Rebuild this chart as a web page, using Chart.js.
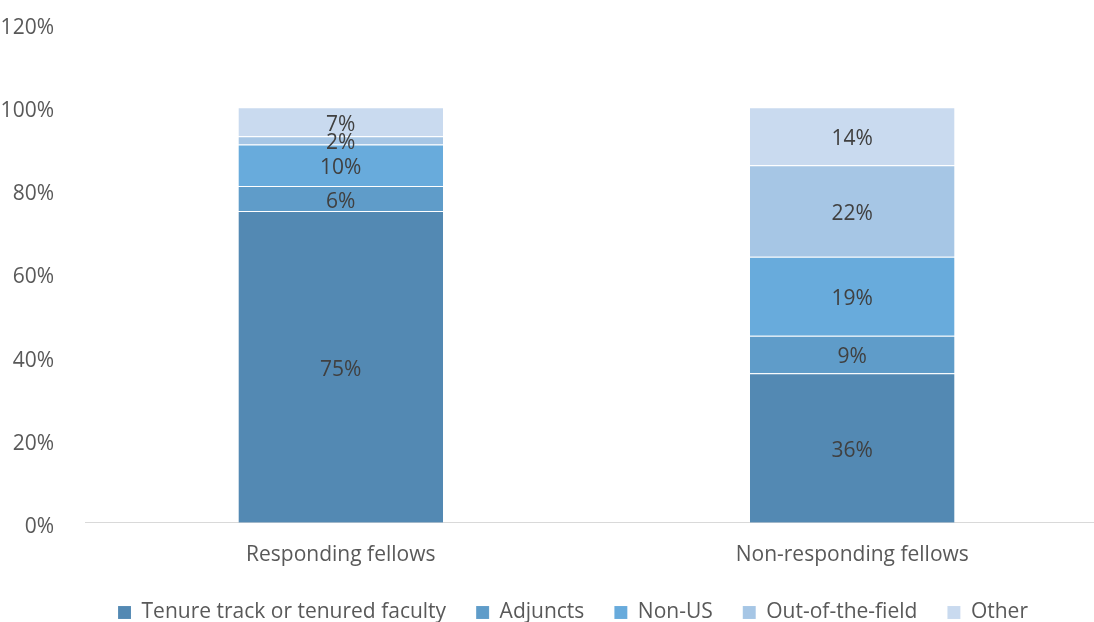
<!DOCTYPE html>
<html>
<head>
<meta charset="utf-8">
<script src="https://cdn.jsdelivr.net/npm/chart.js@4.4.1/dist/chart.umd.min.js"></script>
<style>
  html, body { margin: 0; padding: 0; background: #fff; overflow: hidden; }
  #wrap { width: 1110px; height: 622px; }
</style>
</head>
<body>
<div id="wrap"><canvas id="barChart"></canvas></div>
<script>
Chart.defaults.font.family = "Open Sans";
Chart.defaults.font.size = 21;

const groups = ["Responding fellows", "Non-responding fellows"];
const tenure = [75, 36];
const adjuncts = [6, 9];
const nonUS = [10, 19];
const outOfField = [2, 22];
const other = [7, 14];
const yTicks = [0, 20, 40, 60, 80, 100, 120];

const series = [
    { label: "Tenure track or tenured faculty", data: tenure, color: "#5389b3" },
    { label: "Adjuncts", data: adjuncts, color: "#5f9cc9" },
    { label: "Non-US", data: nonUS, color: "#68abdc" },
    { label: "Out-of-the-field", data: outOfField, color: "#a6c6e5" },
    { label: "Other", data: other, color: "#c9daef" }
];

// writes each segment's value in its middle
const segmentLabels = {
    id: "segmentLabels",
    afterDatasetsDraw(chart){
        const ctx = chart.ctx;
        ctx.save();
        ctx.font = "21px 'Open Sans'";
        ctx.fillStyle = "#404040";
        ctx.textAlign = "center";
        ctx.textBaseline = "middle";
        chart.data.datasets.forEach((ds, i) => {
            chart.getDatasetMeta(i).data.forEach((bar, j) => {
                const mid = (bar.y + bar.base) / 2;
                ctx.fillText(ds.data[j] + "%", bar.x, mid + 3);
            });
        });
        ctx.restore();
    }
};

// legend takes less room below the axis and sits a bit to the right
const SHRINK = 19;
const legendTweak = {
    id: "legendTweak",
    beforeLayout(chart){
        const lg = chart.legend;
        if(lg && !lg._tweaked){
            const fit = lg.fit.bind(lg);
            lg.fit = function(){
                fit();
                this.height -= SHRINK;
            };
            lg._tweaked = true;
        }
    },
    afterLayout(chart){
        const lg = chart.legend;
        lg.left += 19;
        lg.right += 19;
        lg.top -= 8;
        lg.height += SHRINK + 8;
        lg.bottom = lg.top + lg.height;
    }
};

new Chart(document.getElementById("barChart"), {
    type: "bar",
    data: {
        labels: groups,
        datasets: series.map(s => ({
            label: s.label,
            data: s.data,
            backgroundColor: s.color,
            borderColor: "rgba(255,255,255,0.35)",
            borderWidth: { top: 1, bottom: 0, left: 0, right: 0 },
            borderSkipped: false,
            barPercentage: 1,
            categoryPercentage: 0.4
        }))
    },
    options: {
        responsive: true,
        maintainAspectRatio: false,
        animation: false,
        layout: {
            padding: { top: 24, right: 2, bottom: 0, left: 0 }
        },
        scales: {
            x: {
                stacked: true,
                grid: { display: false },
                border: { color: "#d9d9d9", width: 1 },
                ticks: { color: "#595959", padding: 12 }
            },
            y: {
                stacked: true,
                min: 0,
                max: 120,
                afterBuildTicks: axis => {
                    axis.ticks = yTicks.map(v => ({ value: v }));
                },
                afterFit: axis => {
                    axis.width = 85;
                    axis.paddingTop = 0;
                    axis.paddingBottom = 0;
                },
                grid: { display: false },
                border: { display: false },
                ticks: {
                    color: "#595959",
                    padding: 23,
                    labelOffset: 4,
                    callback: v => v + "%"
                }
            }
        },
        plugins: {
            legend: {
                position: "bottom",
                labels: {
                    color: "#595959",
                    boxWidth: 13,
                    boxHeight: 13,
                    padding: 30
                }
            },
            tooltip: { enabled: false }
        }
    },
    plugins: [segmentLabels, legendTweak]
});
</script>
</body>
</html>
